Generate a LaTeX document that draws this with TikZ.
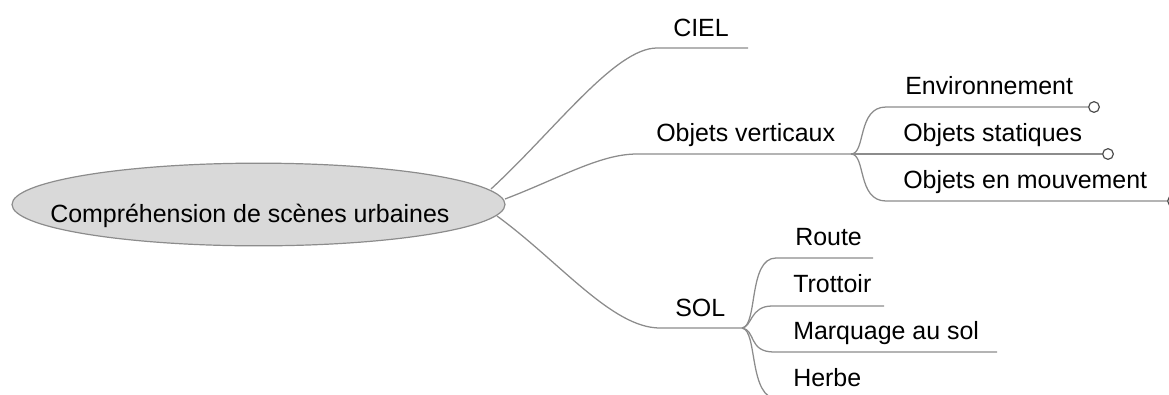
\documentclass[tikz,border=0pt]{standalone}
\usepackage{fontspec}
\setmainfont{Liberation Sans}
\usetikzlibrary{shapes.geometric}
\definecolor{linegray}{HTML}{8C8C8C}
\definecolor{knobgray}{HTML}{4D4D4D}
\definecolor{rootfill}{HTML}{D9D9D9}
\newcommand{\lbfont}{\fontsize{18.7}{22}\selectfont}
\begin{document}
\begin{tikzpicture}[x=0.75pt,y=-0.75pt,
  conn/.style={draw=linegray, line width=0.95pt},
  lbl/.style={anchor=base west, inner sep=0pt, font=\lbfont},
  knob/.style={circle, draw=knobgray, fill=white, line width=0.9pt, minimum size=8pt, inner sep=0pt},
  rootshape/.style={ellipse, draw=linegray, fill=rootfill, line width=0.9pt, minimum width=369.75pt, minimum height=62pt, inner sep=0pt}]
\useasboundingbox (0,0) rectangle (1169,394);
\clip (0,0) rectangle (1169,394);

% root
\node[rootshape] (root) at (258.5,204.5) {};
\node[lbl] (rootlabel) at (50,222) {Compréhension de scènes urbaines};

% anchor points on the root ellipse
\coordinate (rA) at (491,189);
\coordinate (rB) at (505,199);
\coordinate (rC) at (497,216);

% first level
\node[lbl] (ciel) at (673,36) {CIEL};
\coordinate (cielS) at (657,48);
\coordinate (cielE) at (748,48);
\node[lbl] (ov) at (656,141) {Objets verticaux};
\coordinate (ovS) at (637,154);
\coordinate (ovE) at (851,154);
\node[lbl] (sol) at (675,316) {SOL};
\coordinate (solS) at (660,328);
\coordinate (solE) at (742,328);

\draw[conn] (rA) .. controls (555,130) and (615,48) .. (cielS) -- (cielE);
\draw[conn] (rB) .. controls (560,178) and (600,154) .. (ovS) -- (ovE);
\draw[conn] (rC) .. controls (560,262) and (612,328) .. (solS) -- (solE);

% Objets verticaux children
\node[lbl] (env) at (905,94) {Environnement};
\node[lbl] (stat) at (903,141) {Objets statiques};
\node[lbl] (mouv) at (903,188) {Objets en mouvement};
\node[knob] (envK) at (1094,107) {};
\node[knob] (statK) at (1108,154) {};
\node[knob] (mouvK) at (1173,201) {};
\draw[conn] (ovE) .. controls (866,154) and (857,107) .. (886,107) -- (envK.west);
\draw[conn] (ovE) -- (statK.west);
\draw[conn] (ovE) .. controls (866,154) and (857,201) .. (886,201) -- (mouvK.west);

% SOL children
\node[lbl] (route) at (795,245) {Route};
\node[lbl] (trot) at (793,292) {Trottoir};
\node[lbl] (marq) at (793,339) {Marquage au sol};
\node[lbl] (herbe) at (793,386) {Herbe};
\coordinate (routeE) at (873,258);
\coordinate (trotE) at (884,306);
\coordinate (marqE) at (997,352);
\coordinate (herbeE) at (880,399);
\draw[conn] (solE) .. controls (758,326) and (748,258) .. (776,258) -- (routeE);
\draw[conn] (solE) .. controls (752,327) and (750,306) .. (772,306) -- (trotE);
\draw[conn] (solE) .. controls (756,330) and (748,352) .. (774,352) -- (marqE);
\draw[conn] (solE) .. controls (758,330) and (748,399) .. (778,399) -- (herbeE);
\end{tikzpicture}
\end{document}
